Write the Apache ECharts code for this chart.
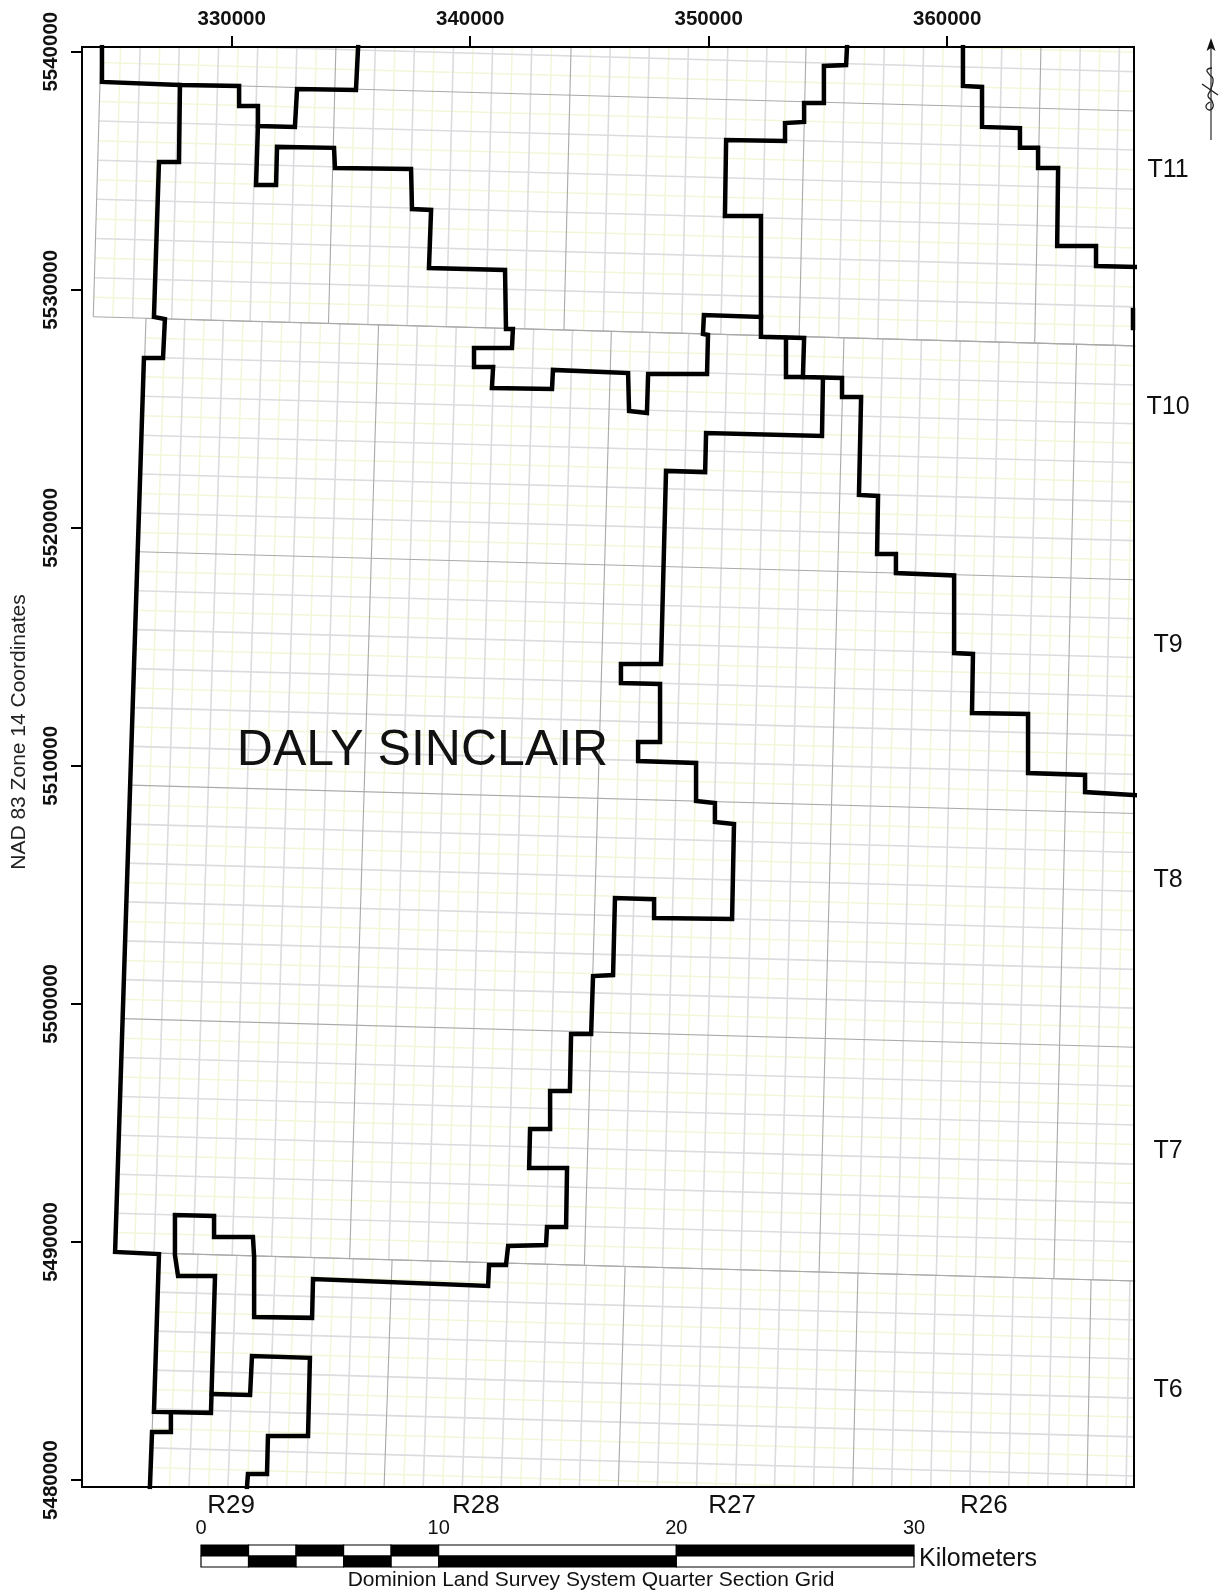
<!DOCTYPE html>
<html>
<head>
<meta charset="utf-8">
<title>Daly Sinclair</title>
<style>
  html, body { margin: 0; padding: 0; background: #fff; }
  #main { width: 1220px; height: 1594px; }
</style>
<script src="https://cdn.jsdelivr.net/npm/echarts@6/dist/echarts.min.js"></script>
</head>
<body>
<div id="main"></div>
<script>
// all map coordinates are NAD83 zone 14, in km, the axes run in metres
const eastTicks = [330000, 340000, 350000, 360000];
const northTicks = [5480000, 5490000, 5500000, 5510000, 5520000, 5530000, 5540000];

const townshipNames = ['T11', 'T10', 'T9', 'T8', 'T7', 'T6'];
const townshipNorthing = [5535.04, 5525.05, 5515.09, 5505.22, 5493.83, 5483.79];
const townshipEasting = 369.26;
const rangeNames = ['R29', 'R28', 'R27', 'R26'];
const rangeEasting = [329.97, 340.24, 350.98, 361.54];
const rangeNorthing = 5478.91;
const fieldName = 'DALY SINCLAIR';
const fieldPoint = [338.0, 5510.63];

const scaleTicks = [0, 10, 20, 30];
const scaleBreaks = [0, 2, 4, 6, 8, 10, 20, 30];
const scaleUpperDark = [1, 0, 1, 0, 1, 0, 1];

// field boundary, thick line pieces
const boundaryNorthWest = [[324.56,5540.2],[324.56,5538.73],[327.83,5538.60],[330.31,5538.56],[330.31,5537.72],[331.10,5537.72],[331.10,5536.88],[332.65,5536.84],[332.74,5538.43],[335.21,5538.39],[335.30,5540.2]];
const boundaryNorth = [[331.10,5536.88],[331.02,5534.40],[331.86,5534.40],[331.90,5536.00],[334.29,5535.96],[334.33,5535.11],[337.52,5535.07],[337.56,5533.39],[338.36,5533.35],[338.27,5530.91],[341.46,5530.83],[341.50,5528.35],[341.79,5528.35],[341.75,5527.55],[340.16,5527.55],[340.16,5526.75],[340.96,5526.75],[340.91,5525.87],[343.43,5525.83],[343.47,5526.63],[346.62,5526.50],[346.66,5524.91],[347.41,5524.82],[347.46,5526.46],[349.93,5526.46],[349.97,5528.10],[349.76,5528.14],[349.80,5528.94],[352.19,5528.86],[352.19,5533.10],[350.68,5533.10],[350.73,5536.29],[353.20,5536.25],[353.20,5537.00],[354.00,5537.05],[354.00,5537.84],[354.83,5537.84],[354.83,5539.40],[355.76,5539.44],[355.80,5540.2]];
const boundaryWest = [[327.83,5538.60],[327.79,5535.37],[326.95,5535.37],[326.74,5528.86],[327.20,5528.77],[327.12,5527.13],[326.32,5527.13],[325.11,5489.58],[326.95,5489.49],[326.74,5482.86],[329.13,5482.82],[329.30,5488.57],[327.75,5488.57],[327.62,5489.45],[327.62,5491.13],[329.26,5491.09],[329.26,5490.21],[330.89,5490.21],[330.94,5489.37],[330.94,5486.85],[333.37,5486.81],[333.41,5488.44],[340.75,5488.15],[340.79,5489.03],[341.50,5489.03],[341.59,5489.83],[343.18,5489.87],[343.22,5490.63],[344.02,5490.63],[344.06,5493.11],[342.47,5493.11],[342.51,5494.74],[343.35,5494.74],[343.35,5496.34],[344.18,5496.34],[344.23,5498.74],[345.07,5498.74],[345.15,5501.17],[345.99,5501.21],[346.07,5504.45],[347.71,5504.40],[347.71,5503.61],[350.98,5503.57],[351.06,5507.56],[350.26,5507.64],[350.26,5508.44],[349.47,5508.52],[349.47,5510.12],[347.04,5510.20],[347.04,5511.00],[347.96,5511.00],[347.96,5513.44],[346.32,5513.48],[346.32,5514.28],[348.00,5514.28],[348.21,5522.39],[349.85,5522.34],[349.89,5523.98],[354.75,5523.86],[354.79,5526.29]];
const boundaryEast = [[352.19,5528.86],[352.19,5528.02],[354.00,5527.97],[353.95,5526.33],[355.59,5526.29],[355.59,5525.49],[356.39,5525.49],[356.30,5521.38],[357.10,5521.34],[357.06,5518.90],[357.85,5518.90],[357.85,5518.10],[360.29,5518.00],[360.29,5514.74],[361.08,5514.70],[361.04,5512.22],[363.39,5512.18],[363.39,5509.70],[365.78,5509.62],[365.78,5508.90],[367.87,5508.77]];
const boundaryNotch = [[353.24,5527.97],[353.24,5526.33],[353.95,5526.33]];
const boundarySouthWest = [[327.45,5482.82],[327.45,5482.02],[326.66,5482.02],[326.57,5479.70]];
const boundarySouth = [[329.17,5483.61],[330.77,5483.57],[330.85,5485.21],[333.28,5485.13],[333.20,5481.85],[331.52,5481.85],[331.48,5480.25],[330.68,5480.25],[330.64,5479.70]];
const boundaryNorthEast = [[360.66,5540.2],[360.66,5538.56],[361.46,5538.52],[361.46,5536.84],[363.05,5536.79],[363.05,5535.96],[363.81,5535.96],[363.81,5535.11],[364.65,5535.11],[364.61,5531.84],[366.24,5531.84],[366.24,5531.00],[367.87,5530.96]];
const boundaryEdge = [[367.79,5529.15],[367.79,5528.39]];

// quarter section grid, read at two reference lines per block
const topBlockColsUpper = [324.52,325.34,326.16,326.98,327.80,328.63,329.45,330.27,331.09,331.91,332.73,333.55,334.37,335.19,336.02,336.84,337.66,338.48,339.30,340.12,340.94,341.76,342.58,343.41,344.23,345.05,345.87,346.69,347.51,348.33,349.15,349.97,350.80,351.62,352.44,353.26,354.08,354.90,355.72,356.54,357.36,358.19,359.01,359.83,360.65,361.47,362.29,363.11,363.93,364.75,365.58,366.40,367.22];
const topBlockColsLower = [324.18,325.00,325.83,326.65,327.47,328.29,329.12,329.94,330.76,331.59,332.41,333.23,334.05,334.88,335.70,336.52,337.35,338.17,338.99,339.82,340.64,341.46,342.28,343.11,343.93,344.75,345.58,346.40,347.22,348.04,348.87,349.69,350.51,351.34,352.16,352.98,353.80,354.63,355.45,356.27,357.10,357.92,358.74,359.56,360.39,361.21,362.03,362.86,363.68,364.50,365.32,366.15,366.97];
const topBlockRowsWest = [5528.86,5529.68,5530.50,5531.33,5532.15,5532.97,5533.80,5534.62,5535.44,5536.26,5537.09,5537.91,5538.73,5539.55,5540.38,5541.20];
const topBlockRowsEast = [5527.64,5528.46,5529.28,5530.11,5530.93,5531.75,5532.58,5533.40,5534.22,5535.04,5535.87,5536.69,5537.51,5538.33,5539.16,5539.98];

const midBlockColsUpper = [326.39,327.20,328.02,328.83,329.64,330.46,331.27,332.09,332.90,333.71,334.53,335.34,336.15,336.97,337.78,338.59,339.41,340.22,341.03,341.85,342.66,343.48,344.29,345.10,345.92,346.73,347.54,348.36,349.17,349.98,350.80,351.61,352.43,353.24,354.05,354.87,355.68,356.49,357.31,358.12,358.93,359.75,360.56,361.38,362.19,363.00,363.82,364.63,365.44,366.26,367.07,367.88];
const midBlockColsLower = [325.08,325.90,326.72,327.54,328.36,329.18,330.00,330.83,331.65,332.47,333.29,334.11,334.93,335.75,336.57,337.39,338.21,339.03,339.85,340.67,341.50,342.32,343.14,343.96,344.78,345.60,346.42,347.24,348.06,348.88,349.70,350.52,351.34,352.16,352.99,353.81,354.63,355.45,356.27,357.09,357.91,358.73,359.55,360.37,361.19,362.01,362.83,363.66,364.48,365.30,366.12,366.94];
const midBlockRowsWest = [5528.81,5527.99,5527.18,5526.36,5525.54,5524.72,5523.90,5523.09,5522.27,5521.45,5520.63,5519.81,5519.00,5518.18,5517.36,5516.54,5515.73,5514.91,5514.09,5513.27,5512.45,5511.64,5510.82,5510.00,5509.19,5508.37,5507.55,5506.73,5505.91,5505.10,5504.28,5503.46,5502.64,5501.82,5501.01,5500.19,5499.37,5498.55,5497.74,5496.92,5496.10,5495.28,5494.47,5493.65,5492.83,5492.01,5491.19,5490.38,5489.56];
const midBlockRowsEast = [5527.64,5526.82,5526.00,5525.19,5524.37,5523.55,5522.73,5521.91,5521.09,5520.28,5519.46,5518.64,5517.82,5517.00,5516.18,5515.37,5514.55,5513.73,5512.91,5512.09,5511.27,5510.46,5509.64,5508.82,5508.00,5507.18,5506.36,5505.55,5504.73,5503.91,5503.09,5502.27,5501.45,5500.64,5499.82,5499.00,5498.18,5497.36,5496.54,5495.73,5494.91,5494.09,5493.27,5492.45,5491.63,5490.82,5490.00,5489.18,5488.36];

const lowBlockColsUpper = [326.93,327.74,328.56,329.37,330.19,331.00,331.82,332.63,333.45,334.26,335.08,335.89,336.71,337.52,338.34,339.15,339.97,340.78,341.60,342.41,343.23,344.04,344.86,345.67,346.49,347.30,348.11,348.93,349.74,350.56,351.37,352.19,353.00,353.82,354.63,355.45,356.26,357.08,357.89,358.71,359.52,360.34,361.15,361.97,362.78,363.60,364.41,365.23,366.04,366.85,367.67];
const lowBlockColsLower = [326.57,327.39,328.21,329.03,329.84,330.66,331.48,332.30,333.12,333.94,334.76,335.57,336.39,337.21,338.03,338.85,339.67,340.48,341.30,342.12,342.94,343.76,344.58,345.40,346.21,347.03,347.85,348.67,349.49,350.31,351.13,351.94,352.76,353.58,354.40,355.22,356.04,356.85,357.67,358.49,359.31,360.13,360.95,361.77,362.58,363.40,364.22,365.04,365.86,366.68,367.50];
const lowBlockRowsWest = [5489.54,5488.72,5487.90,5487.08,5486.26,5485.44,5484.62,5483.81,5482.99,5482.17,5481.35,5480.53];
const lowBlockRowsEast = [5488.36,5487.54,5486.72,5485.90,5485.08,5484.26,5483.44,5482.63,5481.81,5480.99,5480.17,5479.35];

const fontName = '"Liberation Sans", Arial, sans-serif';

function crossing(a, b) {
  const d = (a[0] - a[2]) * (b[1] - b[3]) - (a[1] - a[3]) * (b[0] - b[2]);
  const p = a[0] * a[3] - a[1] * a[2];
  const q = b[0] * b[3] - b[1] * b[2];
  return [(p * (b[0] - b[2]) - (a[0] - a[2]) * q) / d, (p * (b[1] - b[3]) - (a[1] - a[3]) * q) / d];
}

// one block of lines, cut at its own edges where it has them
function blockLines(colsUpper, colsLower, yUpper, yLower, rowsWest, rowsEast, xWest, topEdge, bottomEdge) {
  const cols = colsUpper.map((x, i) => [x, yUpper, colsLower[i], yLower]);
  const rows = rowsWest.map((y, k) => [xWest, y, 367.88, rowsEast[k]]);
  const out = [[], [], []];
  cols.forEach((c, i) => {
    const start = topEdge ? crossing(c, topEdge) : [c[0], c[1]];
    const end = bottomEdge ? crossing(c, bottomEdge) : [c[2], c[3]];
    out[i % 12 === 0 ? 2 : (i % 2 === 0 ? 1 : 0)].push([start, end]);
  });
  rows.forEach((r, k) => {
    out[k % 12 === 0 ? 2 : (k % 2 === 0 ? 1 : 0)].push([crossing(r, cols[0]), [r[2], r[3]]]);
  });
  return out;
}

const topEdgeLine = [324.3, topBlockRowsWest[0], 367.88, topBlockRowsEast[0]];
const midEdgeLine = [325.74, midBlockRowsWest[48], 367.88, midBlockRowsEast[48]];

const topLines = blockLines(topBlockColsUpper, topBlockColsLower, 5540.20, 5528.31, topBlockRowsWest, topBlockRowsEast, 324.3, null, topEdgeLine);
const midLines = blockLines(midBlockColsUpper, midBlockColsLower, 5528.31, 5488.82, midBlockRowsWest, midBlockRowsEast, 325.74, topEdgeLine, midEdgeLine);
const lowLines = blockLines(lowBlockColsUpper, lowBlockColsLower, 5488.82, 5479.70, lowBlockRowsWest, lowBlockRowsEast, 326.57, midEdgeLine, null);

function gridSeries(kind, color, width) {
  const pieces = topLines[kind].concat(midLines[kind], lowLines[kind]);
  return {
    type: 'lines',
    coordinateSystem: 'cartesian2d',
    xAxisIndex: 0,
    yAxisIndex: 0,
    silent: true,
    z: 2 + kind,
    lineStyle: { color: color, width: width, opacity: 1 },
    data: pieces.map(p => ({ coords: p.map(q => [q[0] * 1000, q[1] * 1000]) }))
  };
}

function boundarySeries(points) {
  return {
    type: 'line',
    xAxisIndex: 0,
    yAxisIndex: 0,
    silent: true,
    showSymbol: false,
    symbol: 'none',
    animation: false,
    z: 6,
    lineStyle: { color: '#000', width: 4.5, join: 'miter', cap: 'square' },
    data: points.map(p => [p[0] * 1000, p[1] * 1000])
  };
}

function textSeries(items, size) {
  return {
    type: 'scatter',
    xAxisIndex: 0,
    yAxisIndex: 0,
    clip: false,
    silent: true,
    symbolSize: 1,
    z: 8,
    itemStyle: { color: 'transparent', opacity: 1 },
    label: {
      show: true,
      position: 'inside',
      formatter: '{b}',
      color: '#111',
      fontFamily: fontName,
      fontSize: size
    },
    data: items
  };
}

const scaleCells = [];
scaleUpperDark.forEach((dark, i) => {
  scaleCells.push([scaleBreaks[i], scaleBreaks[i + 1], 0, dark]);
  scaleCells.push([scaleBreaks[i], scaleBreaks[i + 1], 1, 1 - dark]);
});

// closes the frame on the sides without labels, drawn over the grid lines
const frameLine = { show: true, lineStyle: { color: '#000', width: 2 } };

const myChart = echarts.init(document.getElementById('main'));
const option = {
  animation: false,
  backgroundColor: '#fff',
  grid: [
    { left: 82, top: 47, width: 1052, height: 1440, show: true, backgroundColor: '#fff', borderColor: '#000', borderWidth: 2, containLabel: false },
    { left: 201, top: 1545, width: 713, height: 22, show: false, containLabel: false }
  ],
  xAxis: [
    {
      type: 'value',
      position: 'top',
      z: 10,
      min: 323723,
      max: 367832,
      splitLine: { show: false },
      axisLine: frameLine,
      axisTick: { show: true, length: 11, customValues: eastTicks, lineStyle: { color: '#000', width: 2 } },
      axisLabel: { customValues: eastTicks, formatter: v => String(v), margin: 17, color: '#111', fontFamily: fontName, fontWeight: 'bold', fontSize: 20.5 }
    },
    {
      type: 'value',
      gridIndex: 1,
      position: 'top',
      min: 0,
      max: 30,
      interval: 10,
      splitLine: { show: false },
      axisLine: { show: false },
      axisTick: { show: false },
      axisLabel: { margin: 7, color: '#111', fontFamily: fontName, fontSize: 20, customValues: scaleTicks }
    },
    {
      type: 'value',
      position: 'bottom',
      z: 10,
      min: 323723,
      max: 367832,
      splitLine: { show: false },
      axisLine: frameLine,
      axisTick: { show: false },
      axisLabel: { show: false }
    }
  ],
  yAxis: [
    {
      type: 'value',
      position: 'left',
      z: 10,
      min: 5479705,
      max: 5540197,
      splitLine: { show: false },
      axisLine: frameLine,
      axisTick: { show: true, length: 11, customValues: northTicks, lineStyle: { color: '#000', width: 2 } },
      axisLabel: { customValues: northTicks, formatter: v => String(v), rotate: 90, margin: 20, color: '#111', fontFamily: fontName, fontWeight: 'bold', fontSize: 20.5 }
    },
    {
      type: 'category',
      gridIndex: 1,
      inverse: true,
      show: false,
      data: ['upper', 'lower']
    },
    {
      type: 'value',
      position: 'right',
      z: 10,
      min: 5479705,
      max: 5540197,
      splitLine: { show: false },
      axisLine: frameLine,
      axisTick: { show: false },
      axisLabel: { show: false }
    }
  ],
  series: [
    gridSeries(0, '#f4f6da', 1.5),
    gridSeries(1, '#dcdce0', 1.6),
    gridSeries(2, '#a9a9a9', 1.1),
    boundarySeries(boundaryNorthWest),
    boundarySeries(boundaryNorth),
    boundarySeries(boundaryWest),
    boundarySeries(boundaryEast),
    boundarySeries(boundaryNotch),
    boundarySeries(boundarySouthWest),
    boundarySeries(boundarySouth),
    boundarySeries(boundaryNorthEast),
    boundarySeries(boundaryEdge),
    textSeries(townshipNames.map((n, i) => ({ name: n, value: [townshipEasting * 1000, townshipNorthing[i] * 1000] })), 25),
    textSeries(rangeNames.map((n, i) => ({ name: n, value: [rangeEasting[i] * 1000, rangeNorthing * 1000] })), 26),
    textSeries([{ name: fieldName, value: [fieldPoint[0] * 1000, fieldPoint[1] * 1000] }], 50),
    {
      type: 'custom',
      xAxisIndex: 1,
      yAxisIndex: 1,
      silent: true,
      encode: { x: [0, 1], y: 2 },
      data: scaleCells,
      renderItem: function (params, api) {
        const a = api.coord([api.value(0), api.value(2)]);
        const b = api.coord([api.value(1), api.value(2)]);
        const h = api.size([0, 1])[1];
        return {
          type: 'rect',
          shape: { x: a[0], y: a[1] - h / 2, width: b[0] - a[0], height: h },
          style: { fill: api.value(3) ? '#000' : '#fff', stroke: '#000', lineWidth: 1.2 }
        };
      }
    }
  ],
  graphic: [
    { type: 'text', x: 19, y: 732, rotation: Math.PI / 2, style: { text: 'NAD 83 Zone 14 Coordinates', fill: '#222', font: '21px ' + fontName, textAlign: 'center', textVerticalAlign: 'middle' } },
    { type: 'text', x: 919, y: 1559, style: { text: 'Kilometers', fill: '#111', font: '25px ' + fontName, textAlign: 'left', textVerticalAlign: 'middle' } },
    { type: 'text', x: 591, y: 1580, style: { text: 'Dominion Land Survey System Quarter Section Grid', fill: '#111', font: '21px ' + fontName, textAlign: 'center', textVerticalAlign: 'middle' } },
    // north arrow
    { type: 'line', shape: { x1: 1211, y1: 44, x2: 1211, y2: 140 }, style: { stroke: '#555', lineWidth: 1.5 } },
    { type: 'polygon', shape: { points: [[1211, 38], [1215.5, 51], [1211, 48], [1206.5, 51]] }, style: { fill: '#111' } },
    { type: 'line', shape: { x1: 1202, y1: 84, x2: 1218, y2: 95 }, style: { stroke: '#222', lineWidth: 1.5 } },
    { type: 'polyline', shape: { points: [[1212, 68], [1207, 70], [1209, 74], [1213, 79], [1211, 89], [1208, 96], [1212, 101], [1213, 107], [1209, 110], [1206, 106], [1210, 102]], smooth: 0.5 }, style: { fill: 'none', stroke: '#222', lineWidth: 1.3 } }
  ]
};
myChart.setOption(option);
</script>
</body>
</html>
